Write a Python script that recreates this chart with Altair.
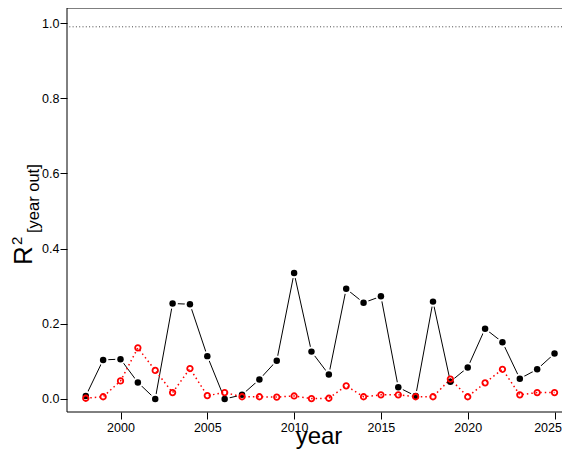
import altair as alt
import pandas as pd

years = list(range(1998, 2026))
black_vals = [0.008, 0.104, 0.106, 0.044, 0.000, 0.254, 0.252, 0.114, 0.000, 0.011,
              0.052, 0.102, 0.335, 0.126, 0.065, 0.293, 0.256, 0.273, 0.031, 0.008,
              0.259, 0.046, 0.084, 0.187, 0.151, 0.054, 0.079, 0.121]
red_vals = [0.002, 0.006, 0.048, 0.136, 0.076, 0.017, 0.081, 0.009, 0.017, 0.006,
            0.006, 0.005, 0.008, 0.001, 0.002, 0.035, 0.006, 0.011, 0.011, 0.006,
            0.006, 0.053, 0.006, 0.043, 0.079, 0.011, 0.017, 0.017]
ref_value = 0.99
x_ticks = [2000, 2005, 2010, 2015, 2020, 2025]
y_ticks = [0.0, 0.2, 0.4, 0.6, 0.8, 1.0]

FONT = "Liberation Sans"
W, H = 495, 404

df_black = pd.DataFrame({"year": years, "value": black_vals})
df_red = pd.DataFrame({"year": years, "value": red_vals})
one = pd.DataFrame({"a": [0]})

xscale = alt.Scale(domain=[1996.918, 2025.43], nice=False, zero=False)
yscale = alt.Scale(domain=[-0.0346, 1.04], nice=False, zero=False)
X = alt.X("year:Q", scale=xscale,
          axis=alt.Axis(values=x_ticks, format="d", tickSize=7, labelPadding=2,
                        labelFontSize=12.5, title=None,
                        labelOffset={"condition": {"test": "datum.value == 2025", "value": -7},
                                     "value": 0}))
Y = alt.Y("value:Q", scale=yscale,
          axis=alt.Axis(values=y_ticks, format=".1f", tickSize=7, labelPadding=1,
                        labelFontSize=12.5, title=None))

ref = alt.Chart(one).mark_rule(color="#444444", strokeDash=[1, 2.3], strokeWidth=1).encode(
    y=alt.Y("v:Q", scale=yscale,
            axis=alt.Axis(values=y_ticks, format=".1f", tickSize=7, labelPadding=1,
                          labelFontSize=12.5, title=None))
).transform_calculate(v=str(ref_value))

border_top = alt.Chart(one).mark_rule(color="black", strokeWidth=1).encode(
    x=alt.value(0), x2=alt.value(W + 20), y=alt.value(0))
border_left = alt.Chart(one).mark_rule(color="black", strokeWidth=1).encode(
    x=alt.value(0), y=alt.value(0), y2=alt.value(H))
border_bottom = alt.Chart(one).mark_rule(color="black", strokeWidth=1).encode(
    x=alt.value(0), x2=alt.value(W + 20), y=alt.value(H))

black_line = alt.Chart(df_black).mark_line(color="black", strokeWidth=1).encode(x=X, y=Y)
black_halo = alt.Chart(df_black).mark_point(filled=True, shape="circle", size=110,
                                             color="white", opacity=1).encode(x=X, y=Y)
red_line = alt.Chart(df_red).mark_line(color="#ff0000", strokeWidth=1.5,
                                       strokeDash=[1.5, 3]).encode(x=X, y=Y)
black_pts = alt.Chart(df_black).mark_point(filled=True, shape="circle", size=42,
                                            color="black", opacity=1).encode(x=X, y=Y)
red_pts = alt.Chart(df_red).mark_point(filled=False, shape="circle", size=30,
                                        color="#ff0000", strokeWidth=1.8,
                                        opacity=1).encode(x=X, y=Y)

t_R = alt.Chart(one).mark_text(text="R", angle=270, align="left", baseline="alphabetic",
                               fontSize=26, font=FONT, color="black").encode(
    x=alt.value(-35), y=alt.value(257))
t_2 = alt.Chart(one).mark_text(text="2", angle=270, align="left", baseline="alphabetic",
                               fontSize=15, font=FONT, color="black").encode(
    x=alt.value(-45.5), y=alt.value(237))
t_sub = alt.Chart(one).mark_text(text="[year out]", angle=270, align="left",
                                 baseline="alphabetic", fontSize=16.5, font=FONT,
                                 color="black").encode(
    x=alt.value(-28.5), y=alt.value(225))
t_year = alt.Chart(one).mark_text(text="year", align="center", baseline="alphabetic",
                                  fontSize=24, font=FONT, color="black").encode(
    x=alt.value(252), y=alt.value(436))

chart = alt.layer(
    ref, border_top, border_left, border_bottom,
    black_line, black_halo, red_line, black_pts, red_pts,
    t_R, t_2, t_sub, t_year
).properties(
    width=W, height=H,
    autosize=alt.AutoSizeParams(type="none"),
    padding={"left": 59, "top": 0, "right": 0, "bottom": 37},
).configure_view(
    stroke="transparent", strokeWidth=0
).configure_axis(
    grid=False, domain=False, tickColor="black", labelColor="black",
    labelFont=FONT, tickWidth=1
)

chart.save("out.html", embed_options={"renderer": "svg", "actions": False})
